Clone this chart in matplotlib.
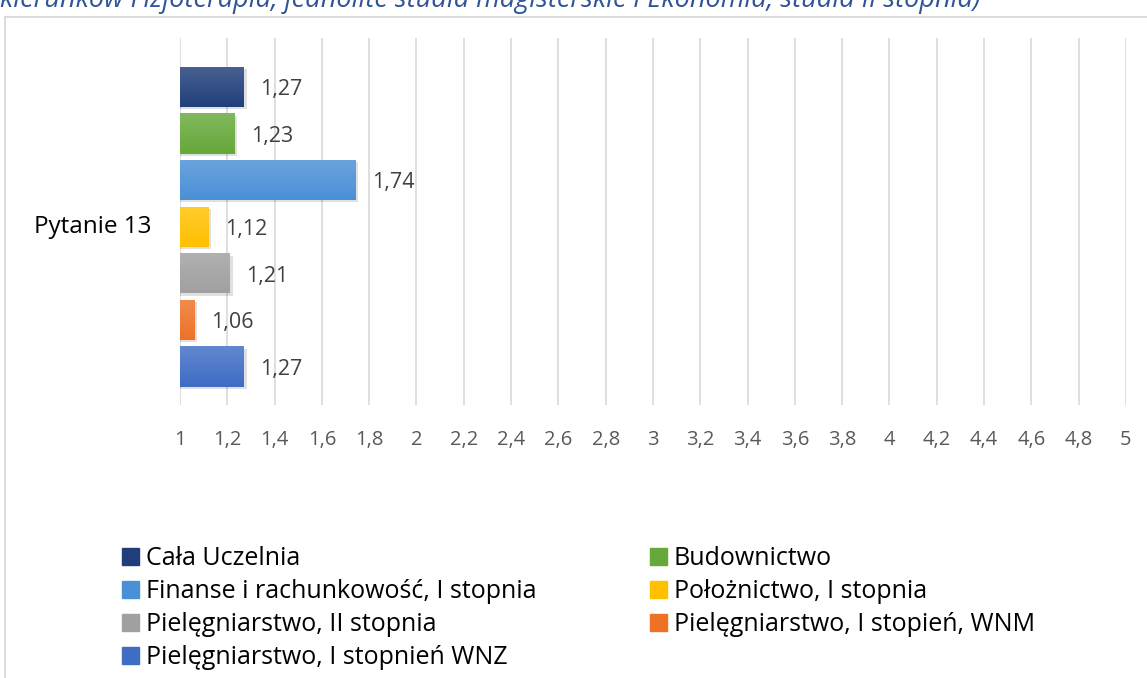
import numpy as np
import matplotlib.pyplot as plt
from matplotlib.patches import Rectangle
from matplotlib.colors import to_rgb

# data
series = ['Cała Uczelnia', 'Budownictwo', 'Finanse i rachunkowość, I stopnia',
          'Położnictwo, I stopnia', 'Pielęgniarstwo, II stopnia',
          'Pielęgniarstwo, I stopień, WNM', 'Pielęgniarstwo, I stopnień WNZ']
values = [1.27, 1.23, 1.74, 1.12, 1.21, 1.06, 1.27]
labels = ['1,27', '1,23', '1,74', '1,12', '1,21', '1,06', '1,27']
colors = ['#203F7A', '#66A83A', '#4A90D6', '#FFC000', '#A0A0A0', '#ED7226', '#3F6DC4']
category = 'Pytanie 13'
ticks = np.arange(1, 5.01, 0.2)
tick_labels = ['1', '1,2', '1,4', '1,6', '1,8', '2', '2,2', '2,4', '2,6', '2,8', '3',
               '3,2', '3,4', '3,6', '3,8', '4', '4,2', '4,4', '4,6', '4,8', '5']
title = 'kierunków Fizjoterapia, jednolite studia magisterskie i Ekonomia, studia II stopnia)'

plt.rcParams['font.family'] = ['Open Sans', 'DejaVu Sans']

W, H = 1147, 678
fig = plt.figure(figsize=(W / 100, H / 100), dpi=100)
ax = fig.add_axes([180 / W, 1 - 405 / H, (1126 - 180) / W, (405 - 38) / H])

# outer chart border
fig.patches.append(Rectangle((5 / W, -0.01), 1.0, 1 - 17 / H + 0.01, transform=fig.transFigure,
                             fill=False, edgecolor='#D9D9D9', linewidth=1.3, zorder=0))
fig.text(0.0, 1 - 7 / H, title, fontsize=19.5, style='italic', color='#2F5597',
         va='baseline', ha='left')

ypos = -np.arange(len(values))
h = 0.86
bars = ax.barh(ypos, [v - 1 for v in values], left=1, height=h, color=colors, zorder=3)

# soft shadow + vertical gradient on each bar
grad = np.linspace(0, 1, 64).reshape(-1, 1)
for b, c, v, y, lab in zip(bars, colors, values, ypos, labels):
    ax.add_patch(Rectangle((1, y - h / 2 - 0.05), v - 1 + 0.012, h, color='black',
                           alpha=0.12, zorder=2, linewidth=0))
    base = np.array(to_rgb(c))
    light = base + (1 - base) * 0.18
    img = (1 - grad) * base + grad * light
    im = ax.imshow(img[:, None, :].repeat(2, axis=1), extent=(1, v, y - h / 2, y + h / 2),
                   aspect='auto', origin='lower', zorder=4)
    im.set_clip_path(b)
    ax.text(v + 0.07, y - 0.06, lab, va='center', ha='left', fontsize=15.5, color='#404040')

ax.set_xlim(1, 5)
ax.set_ylim(1.05 - 367 / 46.6, 1.05)
ax.set_xticks(ticks)
ax.set_xticklabels(tick_labels, fontsize=14.5, color='#595959')
ax.tick_params(axis='x', length=0, pad=18)
ax.set_yticks([])
ax.grid(axis='x', color='#D9D9D9', linewidth=1.2, zorder=0)
for s in ax.spines.values():
    s.set_visible(False)
ax.text(-28 / 946 * 4 + 1, -3, category, ha='right', va='center', fontsize=17.5, color='black')

# legend, row-wise like the original: two columns placed separately
handles = [Rectangle((0, 0), 1, 1, color=c) for c in colors]
for idx, x0 in (([0, 2, 4, 6], 122), ([1, 3, 5], 650)):
    leg = fig.legend([handles[i] for i in idx], [series[i] for i in idx],
                     loc='upper left', bbox_to_anchor=(x0 / W, 1 - 546 / H), frameon=False,
                     fontsize=18, handlelength=0.68, handleheight=0.68, handletextpad=0.28,
                     labelspacing=0.32, borderpad=0, borderaxespad=0)
    for t in leg.get_texts():
        t.set_color('black')

fig.savefig('out.png', dpi=100)
